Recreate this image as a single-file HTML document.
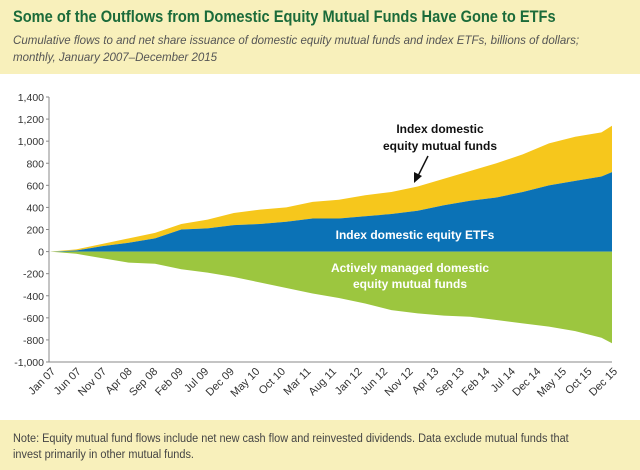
<!DOCTYPE html>
<html><head><meta charset="utf-8"><style>
body{margin:0;width:640px;height:470px;background:#fff;font-family:"Liberation Sans",sans-serif;overflow:hidden;position:relative}
#hdr{position:absolute;left:0;top:0;width:640px;height:74px;background:#f8f0bb}
#title{position:absolute;left:13px;top:7px;font-size:17px;font-weight:bold;color:#1b6b3a;white-space:nowrap;transform:scaleX(0.86);transform-origin:left}
#sub{position:absolute;left:13px;top:32px;font-size:12px;font-style:italic;color:#555;line-height:17px;white-space:nowrap;transform:scaleX(0.96);transform-origin:left}
#ftr{position:absolute;left:0;top:420px;width:640px;height:50px;background:#f8f0bb}
#note{position:absolute;left:13px;top:11px;font-size:11.5px;color:#444;line-height:16px;white-space:nowrap;transform:scaleX(0.95);transform-origin:left}
svg{position:absolute;left:0;top:0}
</style></head><body>
<div id="hdr">
<div id="title">Some of the Outflows from Domestic Equity Mutual Funds Have Gone to ETFs</div>
<div id="sub">Cumulative flows to and net share issuance of domestic equity mutual funds and index ETFs, billions of dollars;<br>monthly, January 2007–December 2015</div>
</div>
<svg id="chart" width="640" height="470"></svg>
<div id="ftr">
<div id="note">Note: Equity mutual fund flows include net new cash flow and reinvested dividends. Data exclude mutual funds that<br>invest primarily in other mutual funds.</div>
</div>
<script>
const categories=["Jan 07","Jun 07","Nov 07","Apr 08","Sep 08","Feb 09","Jul 09","Dec 09","May 10","Oct 10","Mar 11","Aug 11","Jan 12","Jun 12","Nov 12","Apr 13","Sep 13","Feb 14","Jul 14","Dec 14","May 15","Oct 15","Dec 15"];
const monthIndex=[0,5,10,15,20,25,30,35,40,45,50,55,60,65,70,75,80,85,90,95,100,105,107];
const etfValues=[0,10,50,80,120,200,210,240,250,270,300,300,320,340,370,420,460,490,540,600,640,680,720];
const totalIndexValues=[0,20,70,120,170,250,290,350,380,400,450,470,510,540,590,660,730,800,880,980,1040,1080,1140];
const activeValues=[0,-20,-60,-100,-110,-160,-190,-230,-280,-330,-380,-420,-470,-530,-560,-580,-590,-620,-650,-680,-720,-780,-830];
const yTicks=[1400,1200,1000,800,600,400,200,0,-200,-400,-600,-800,-1000];
const yTickLabels=["1,400","1,200","1,000","800","600","400","200","0","-200","-400","-600","-800","-1,000"];

const svg=document.getElementById('chart');const NS='http://www.w3.org/2000/svg';
const x0=50,x1=612,yTop=97,yBot=362;
const xs=m=>x0+(x1-x0)*m/107;
const ys=v=>yTop+(1400-v)*(yBot-yTop)/2400;
function mk(t,a){const e=document.createElementNS(NS,t);for(const k in a)e.setAttribute(k,a[k]);svg.appendChild(e);return e;}
function area(top,bot,fill,name){
  let d='M'+xs(monthIndex[0])+','+ys(top[0]);
  for(let i=1;i<top.length;i++)d+=' L'+xs(monthIndex[i])+','+ys(top[i]);
  for(let i=bot.length-1;i>=0;i--)d+=' L'+xs(monthIndex[i])+','+ys(bot[i]);
  const p=mk('path',{d:d+'Z',fill:fill});
  
  
}
const zeros=monthIndex.map(()=>0);
area(totalIndexValues,etfValues,'#f6c71c','index-mutual-funds-area');
area(etfValues,zeros,'#0b72b6','index-etfs-area');
area(zeros,activeValues,'#9cc63f','active-funds-area');
const ya=mk('line',{x1:x0-1,y1:yTop,x2:x0-1,y2:yBot,stroke:'#888','stroke-width':1});


const xa=mk('line',{x1:x0-1,y1:yBot,x2:x1,y2:yBot,stroke:'#888','stroke-width':1});


yTicks.forEach((v,i)=>{
  mk('line',{x1:x0-4,y1:ys(v),x2:x0-1,y2:ys(v),stroke:'#888'});
  const t=mk('text',{x:x0-6,y:ys(v)+4,'text-anchor':'end','font-size':'10.5','fill':'#333'});
  t.textContent=yTickLabels[i];
  
  
});
categories.forEach((c,i)=>{
  const x=x0+(x1-x0)*i/(categories.length-1)+6;
  const t=mk('text',{x:x,y:yBot+10,'text-anchor':'end','font-size':'11','fill':'#333',transform:`rotate(-45 ${x} ${yBot+10})`});
  t.textContent=c;
  
  
});
function lab(txt,x,y,fill,name){const t=mk('text',{x:x,y:y,'text-anchor':'middle','font-size':'12','font-weight':'bold',fill:fill});t.textContent=txt;
  
  }
lab('Index domestic',440,133,'#111','index-mf-label-1');
lab('equity mutual funds',440,150,'#111','index-mf-label-2');
const ar=mk('line',{x1:428,y1:156,x2:418,y2:176,stroke:'#111','stroke-width':1.5});


mk('polygon',{points:'414,183 414,172 422,176',fill:'#111'});
lab('Index domestic equity ETFs',415,239,'#fff','etf-label');
lab('Actively managed domestic',410,272,'#fff','active-label-1');
lab('equity mutual funds',410,288,'#fff','active-label-2');
</script>
</body></html>
